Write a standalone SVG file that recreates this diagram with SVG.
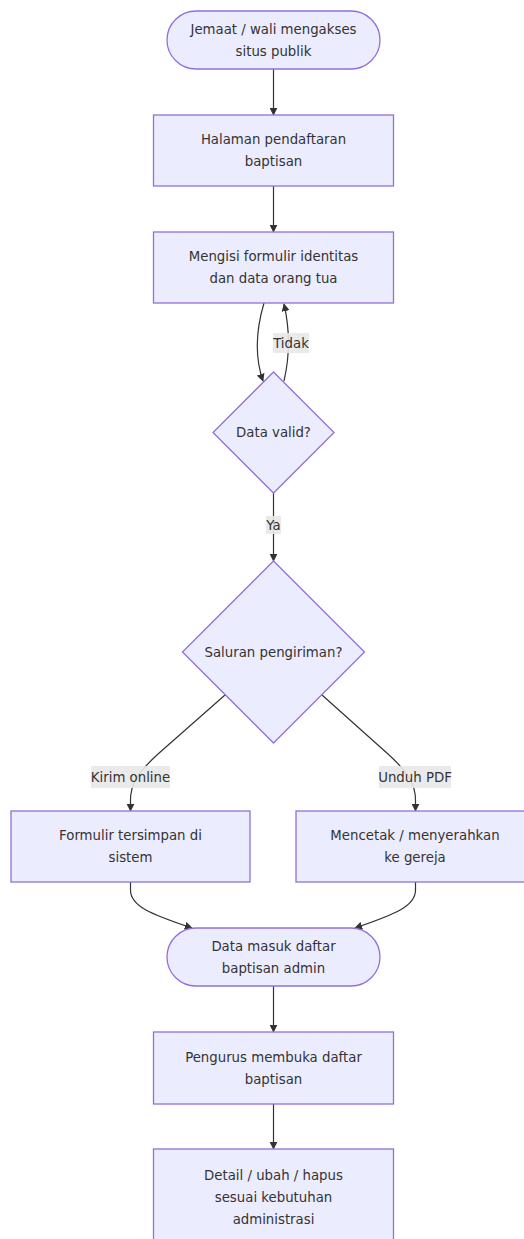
<svg xmlns="http://www.w3.org/2000/svg" width="524" height="1239" viewBox="0 0 524 1239">
  <defs>
    <marker id="arrow" viewBox="0 0 10 10" refX="9" refY="5" markerWidth="8" markerHeight="8" markerUnits="userSpaceOnUse" orient="auto">
      <path d="M0,0 L10,5 L0,10 z" fill="#333333"/>
    </marker>
    <style>
      .node { fill: #ECECFF; stroke: #9370DB; stroke-width: 1.3; }
      .label { font-family: "DejaVu Sans", Verdana, sans-serif; font-size: 13.3px; fill: #333333; text-anchor: middle; dominant-baseline: central; }
      .edge { fill: none; stroke: #333333; stroke-width: 1.2; }
      .edge-bg { fill: #E8E8E8; opacity: 0.9; }
    </style>
  </defs>
  <rect width="524" height="1239" fill="#FFFFFF"/>

  <!-- connectors -->
  <g id="connectors">
    <path class="edge" d="M273.5,69 L273.5,115" marker-end="url(#arrow)"/>
    <path class="edge" d="M273.5,186 L273.5,232" marker-end="url(#arrow)"/>
    <path class="edge" d="M264,303 C256,330 254,355 263,381" marker-end="url(#arrow)"/>
    <path class="edge" d="M284,381 C290,355 290,330 284,304" marker-end="url(#arrow)"/>
    <path class="edge" d="M273.5,493 L273.5,561" marker-end="url(#arrow)"/>
    <path class="edge" d="M225,695 L158,754 C136,774 130.5,786 130.5,800 L130.5,811" marker-end="url(#arrow)"/>
    <path class="edge" d="M322,695 L388,754 C410,774 415.5,786 415.5,800 L415.5,811" marker-end="url(#arrow)"/>
    <path class="edge" d="M130.5,882 L130.5,890 C130.5,906 150,914 192,928" marker-end="url(#arrow)"/>
    <path class="edge" d="M415.5,882 L415.5,890 C415.5,906 396,914 355,928" marker-end="url(#arrow)"/>
    <path class="edge" d="M273.5,986 L273.5,1032" marker-end="url(#arrow)"/>
    <path class="edge" d="M273.5,1104 L273.5,1149" marker-end="url(#arrow)"/>

    <g id="label-tidak">
      <rect class="edge-bg" x="273" y="333" width="36" height="20"/>
      <text class="label" x="291" y="343">Tidak</text>
    </g>
    <g id="label-ya">
      <rect class="edge-bg" x="266" y="516" width="15" height="18"/>
      <text class="label" x="273.5" y="525">Ya</text>
    </g>
    <g id="label-kirim">
      <rect class="edge-bg" x="91" y="766" width="79" height="22"/>
      <text class="label" x="130.5" y="777">Kirim online</text>
    </g>
    <g id="label-unduh">
      <rect class="edge-bg" x="379" y="766" width="72" height="22"/>
      <text class="label" x="415" y="777">Unduh PDF</text>
    </g>
  </g>

  <!-- nodes -->
  <g id="start">
    <rect class="node" x="167" y="11" width="213" height="58" rx="29" ry="29"/>
    <text class="label" x="273.5" y="29">Jemaat / wali mengakses</text>
    <text class="label" x="273.5" y="51">situs publik</text>
  </g>
  <g id="halaman">
    <rect class="node" x="153.5" y="115" width="240" height="71"/>
    <text class="label" x="273.5" y="139.5">Halaman pendaftaran</text>
    <text class="label" x="273.5" y="161.5">baptisan</text>
  </g>
  <g id="mengisi">
    <rect class="node" x="153.5" y="232" width="240" height="71"/>
    <text class="label" x="273.5" y="256.5">Mengisi formulir identitas</text>
    <text class="label" x="273.5" y="278.5">dan data orang tua</text>
  </g>
  <g id="valid">
    <polygon class="node" points="273.5,372 334,432.5 273.5,493 213,432.5"/>
    <text class="label" x="273.5" y="432.5">Data valid?</text>
  </g>
  <g id="saluran">
    <polygon class="node" points="273.5,561 364.5,652 273.5,743 182.5,652"/>
    <text class="label" x="273.5" y="652">Saluran pengiriman?</text>
  </g>
  <g id="tersimpan">
    <rect class="node" x="11" y="811" width="239" height="71"/>
    <text class="label" x="130.5" y="835.5">Formulir tersimpan di</text>
    <text class="label" x="130.5" y="857.5">sistem</text>
  </g>
  <g id="mencetak">
    <rect class="node" x="296" y="811" width="240" height="71"/>
    <text class="label" x="415" y="835.5">Mencetak / menyerahkan</text>
    <text class="label" x="415" y="857.5">ke gereja</text>
  </g>
  <g id="masuk">
    <rect class="node" x="167" y="928" width="213" height="58" rx="29" ry="29"/>
    <text class="label" x="273.5" y="946">Data masuk daftar</text>
    <text class="label" x="273.5" y="968">baptisan admin</text>
  </g>
  <g id="pengurus">
    <rect class="node" x="153.5" y="1032" width="240" height="72"/>
    <text class="label" x="273.5" y="1057">Pengurus membuka daftar</text>
    <text class="label" x="273.5" y="1079">baptisan</text>
  </g>
  <g id="detail">
    <rect class="node" x="153.5" y="1149" width="240" height="96"/>
    <text class="label" x="273.5" y="1175">Detail / ubah / hapus</text>
    <text class="label" x="273.5" y="1197">sesuai kebutuhan</text>
    <text class="label" x="273.5" y="1219">administrasi</text>
  </g>
</svg>
